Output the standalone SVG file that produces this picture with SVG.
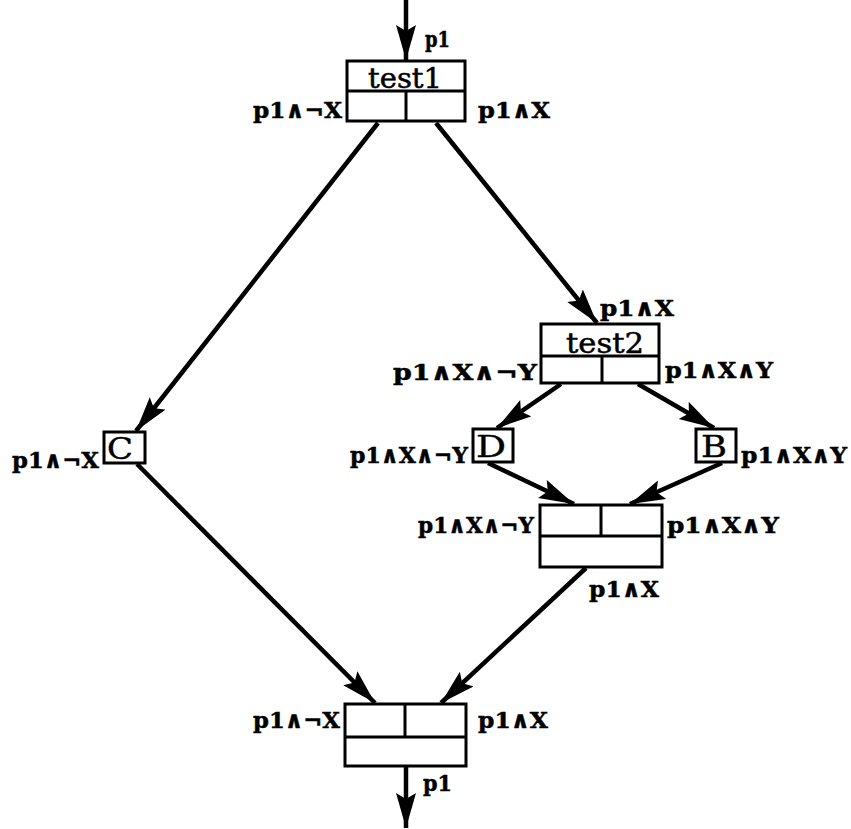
<svg xmlns="http://www.w3.org/2000/svg" width="851" height="829" viewBox="0 0 851 829">
<style>
.box{fill:#fff;stroke:#000;stroke-width:3}
.div{stroke:#000;stroke-width:3;fill:none}
.lbl{font-family:"DejaVu Serif","Liberation Serif",serif;font-size:23px;font-weight:bold;fill:#000;stroke:#000;stroke-width:0.5}
.big{font-family:"DejaVu Serif","Liberation Serif",serif;font-size:27px;fill:#000;stroke:#000;stroke-width:0.5}
.let{font-family:"DejaVu Serif","Liberation Serif",serif;font-size:30px;fill:#000;stroke:#000;stroke-width:0.4}
.con{stroke:#000;stroke-width:4.5;fill:none;marker-end:url(#ah)}
</style>
<defs>
<marker id="ah" markerUnits="userSpaceOnUse" markerWidth="38" markerHeight="22" refX="35" refY="10" orient="auto">
<path d="M0,0 L35,10 L0,20 L6,10 z" fill="#000"/>
</marker>
</defs>
<g id="connectors">
<line class="con" x1="406" y1="0" x2="406" y2="60"/>
<line class="con" x1="378" y1="123" x2="136" y2="431"/>
<line class="con" x1="436" y1="123" x2="597" y2="323"/>
<line class="con" x1="561" y1="384" x2="497" y2="428"/>
<line class="con" x1="638" y1="384" x2="714" y2="428"/>
<line class="con" x1="488" y1="463" x2="574" y2="504"/>
<line class="con" x1="722" y1="463" x2="630" y2="504"/>
<line class="con" x1="137" y1="464" x2="375" y2="703"/>
<line class="con" x1="586" y1="568" x2="441" y2="703"/>
<line class="con" x1="406" y1="767" x2="406" y2="828"/>
</g>
<g id="test1">
<rect class="box" x="347" y="61" width="118" height="60"/>
<line class="div" x1="347" y1="91" x2="465" y2="91"/>
<line class="div" x1="406" y1="91" x2="406" y2="121"/>
<text class="big" x="368" y="88" textLength="74" lengthAdjust="spacingAndGlyphs">test1</text>
<text class="lbl" x="425" y="47" textLength="25" lengthAdjust="spacingAndGlyphs">p1</text>
<text class="lbl" x="253" y="118" textLength="89" lengthAdjust="spacingAndGlyphs">p1∧¬X</text>
<text class="lbl" x="478" y="118" textLength="72" lengthAdjust="spacingAndGlyphs">p1∧X</text>
</g>
<g id="test2">
<rect class="box" x="541" y="324" width="118" height="59"/>
<line class="div" x1="541" y1="356" x2="659" y2="356"/>
<line class="div" x1="602" y1="356" x2="602" y2="383"/>
<text class="big" x="566" y="353" textLength="78" lengthAdjust="spacingAndGlyphs">test2</text>
<text class="lbl" x="600" y="316" textLength="74" lengthAdjust="spacingAndGlyphs">p1∧X</text>
<text class="lbl" x="393" y="380" textLength="144" lengthAdjust="spacingAndGlyphs">p1∧X∧¬Y</text>
<text class="lbl" x="665" y="378" textLength="108" lengthAdjust="spacingAndGlyphs">p1∧X∧Y</text>
</g>
<g id="C">
<rect class="box" x="104" y="432" width="41" height="31"/>
<text class="let" x="107" y="459" textLength="26" lengthAdjust="spacingAndGlyphs">C</text>
<text class="lbl" x="12" y="468" textLength="87" lengthAdjust="spacingAndGlyphs">p1∧¬X</text>
</g>
<g id="D">
<rect class="box" x="473" y="429" width="40" height="33"/>
<text class="let" x="476" y="457" textLength="30" lengthAdjust="spacingAndGlyphs">D</text>
<text class="lbl" x="350" y="463" textLength="118" lengthAdjust="spacingAndGlyphs">p1∧X∧¬Y</text>
</g>
<g id="B">
<rect class="box" x="696" y="429" width="40" height="33"/>
<text class="let" x="701" y="457" textLength="26" lengthAdjust="spacingAndGlyphs">B</text>
<text class="lbl" x="741" y="463" textLength="106" lengthAdjust="spacingAndGlyphs">p1∧X∧Y</text>
</g>
<g id="merge">
<rect class="box" x="540" y="505" width="122" height="62"/>
<line class="div" x1="540" y1="536" x2="662" y2="536"/>
<line class="div" x1="601" y1="505" x2="601" y2="536"/>
<text class="lbl" x="418" y="533" textLength="116" lengthAdjust="spacingAndGlyphs">p1∧X∧¬Y</text>
<text class="lbl" x="667" y="533" textLength="112" lengthAdjust="spacingAndGlyphs">p1∧X∧Y</text>
<text class="lbl" x="589" y="597" textLength="70" lengthAdjust="spacingAndGlyphs">p1∧X</text>
</g>
<g id="bottom">
<rect class="box" x="345" y="704" width="121" height="62"/>
<line class="div" x1="345" y1="737" x2="466" y2="737"/>
<line class="div" x1="405" y1="704" x2="405" y2="737"/>
<text class="lbl" x="253" y="728" textLength="87" lengthAdjust="spacingAndGlyphs">p1∧¬X</text>
<text class="lbl" x="478" y="728" textLength="70" lengthAdjust="spacingAndGlyphs">p1∧X</text>
<text class="lbl" x="423" y="791" textLength="29" lengthAdjust="spacingAndGlyphs">p1</text>
</g>
</svg>
